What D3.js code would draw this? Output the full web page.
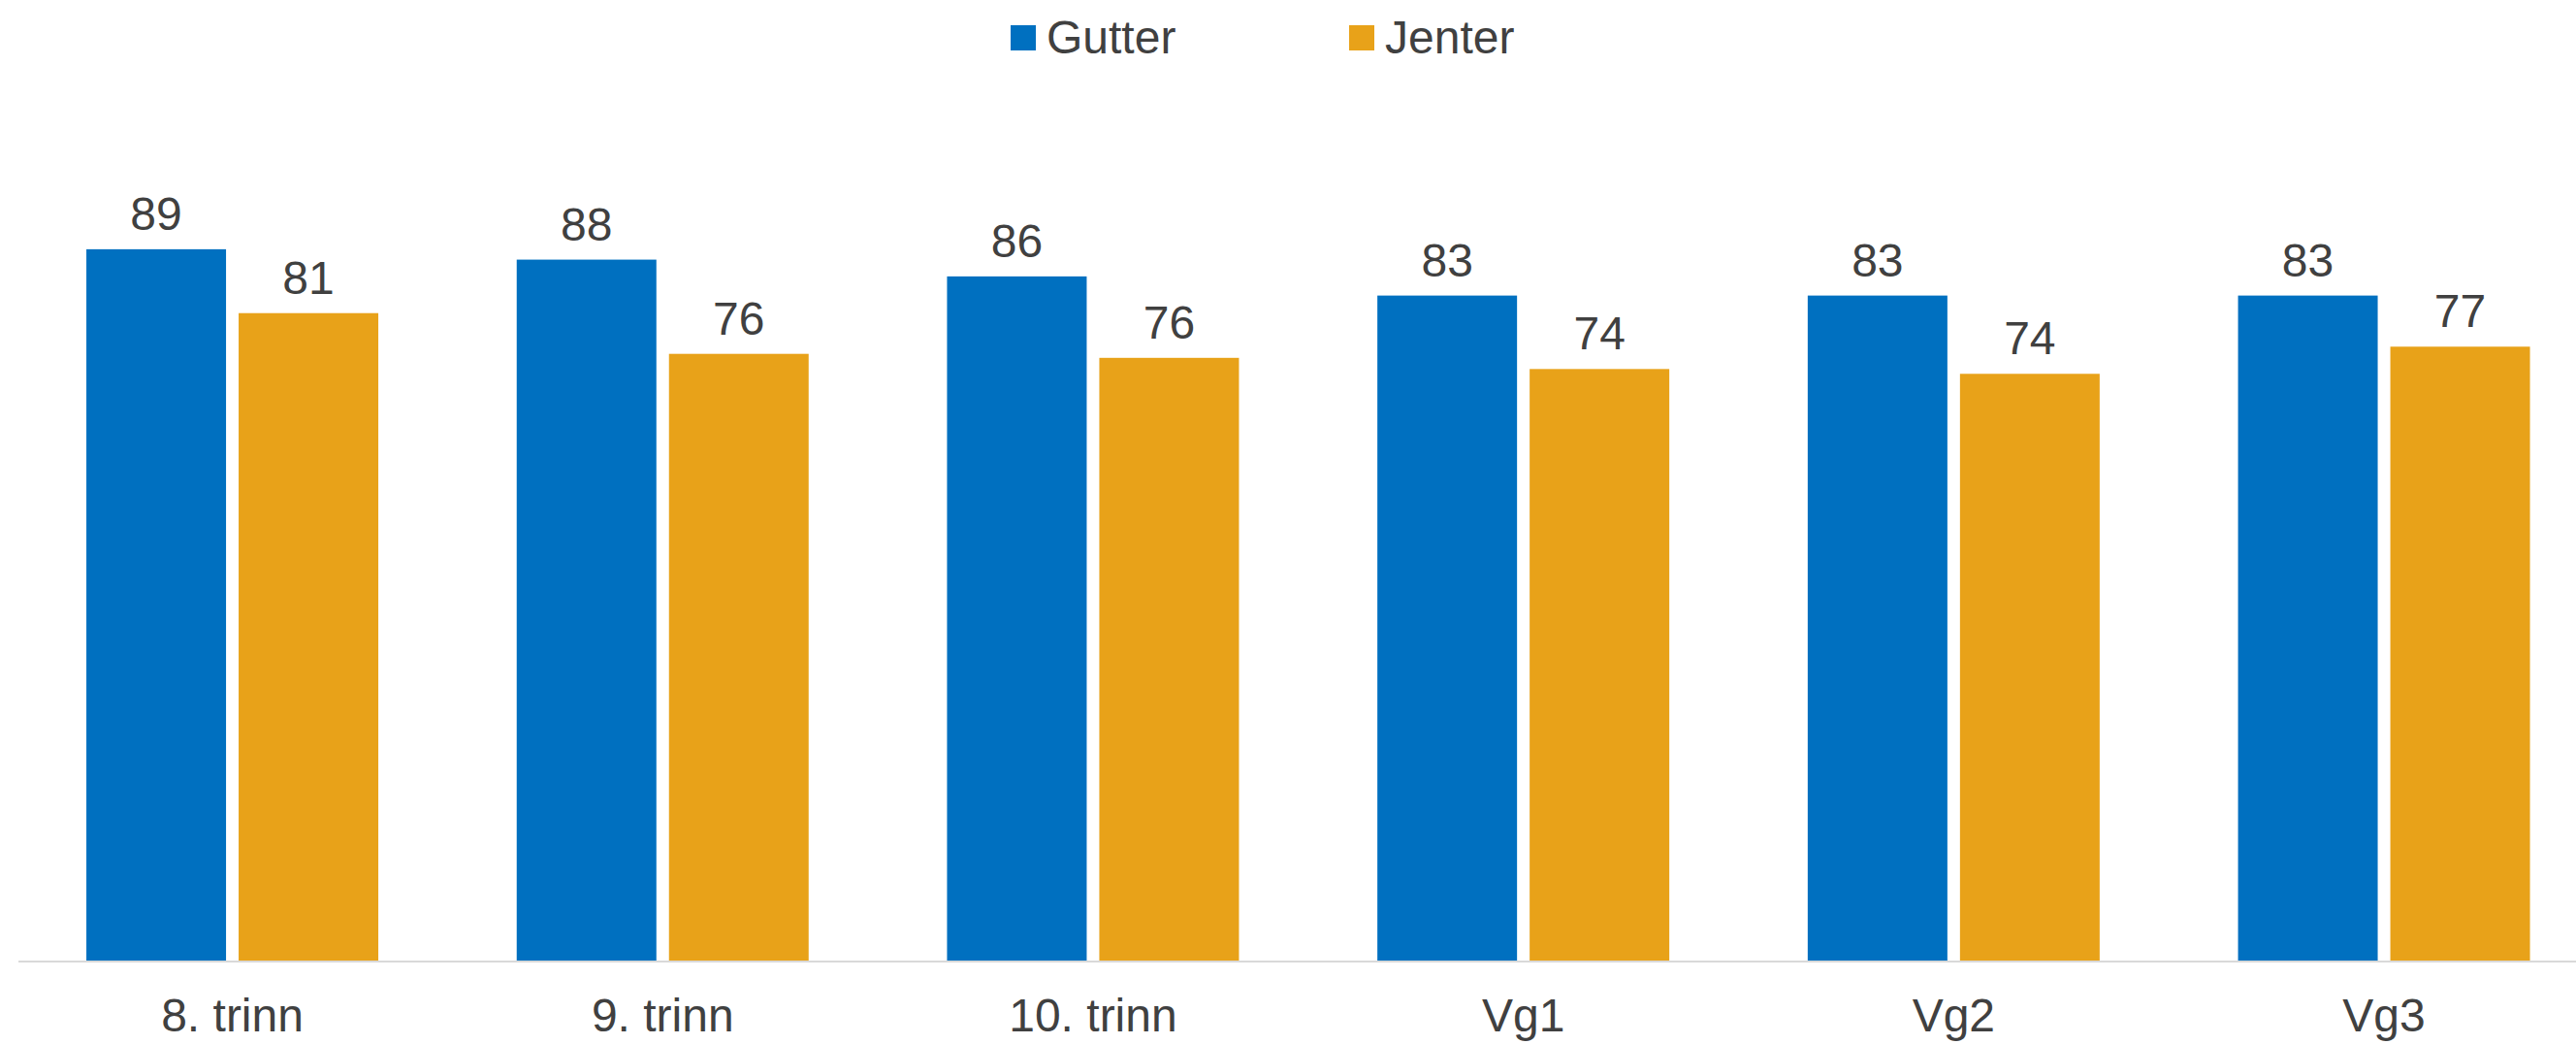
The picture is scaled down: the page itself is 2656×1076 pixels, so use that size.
<!DOCTYPE html>
<html>
<head>
<meta charset="utf-8">
<script src="https://cdn.jsdelivr.net/npm/d3@7"></script>
<style>
  html, body { margin: 0; padding: 0; background: #fff; }
  svg { display: block; font-family: "Liberation Sans", Arial, sans-serif; }
</style>
</head>
<body>
<svg id="chart" width="2656" height="1076"></svg>
<script>
const categories = ["8. trinn", "9. trinn", "10. trinn", "Vg1", "Vg2", "Vg3"];
const seriesNames = ["Gutter", "Jenter"];
const gutter = [89.2, 87.9, 85.8, 83.4, 83.4, 83.4];
const jenter = [81.2, 76.1, 75.6, 74.2, 73.6, 77.0];
const colors = ["#0070C0", "#E8A219"];

const seriesValues = [gutter, jenter];
const data = categories.map((c, i) => ({
  cat: c,
  vals: seriesNames.map((s, j) => ({ series: s, value: seriesValues[j][i] }))
}));

const svg = d3.select("#chart");
const textColor = "#404040";

const step = 443.7;
const x0 = 17.7;
const x = d3.scaleBand().domain(categories).range([x0, x0 + step * categories.length]).paddingInner(0).paddingOuter(0);
const groupW = 301;
const xs = d3.scaleBand().domain(seriesNames)
  .range([(step - groupW) / 2, (step + groupW) / 2])
  .paddingInner(13 / 157).paddingOuter(0);
const y = d3.scaleLinear().domain([0, 100]).range([991, 168]);
const color = d3.scaleOrdinal().domain(seriesNames).range(colors);
const fmt = d3.format(".0f");

// bars
const groups = svg.append("g").selectAll("g").data(data).join("g")
  .attr("transform", d => `translate(${x(d.cat)},0)`);

groups.selectAll("rect").data(d => d.vals).join("rect")
  .attr("x", d => xs(d.series))
  .attr("width", xs.bandwidth())
  .attr("y", d => y(d.value))
  .attr("height", d => y(0) - y(d.value))
  .attr("fill", d => color(d.series));

groups.selectAll("text.val").data(d => d.vals).join("text")
  .attr("class", "val")
  .attr("x", d => xs(d.series) + xs.bandwidth() / 2)
  .attr("y", d => y(d.value) - 20)
  .attr("text-anchor", "middle")
  .attr("font-size", 48)
  .attr("fill", textColor)
  .text(d => fmt(d.value));

// x axis
const xAxis = d3.axisBottom(x).tickSize(0).tickPadding(0);
const axisG = svg.append("g").attr("transform", `translate(0,${y(0)})`).call(xAxis);
axisG.select(".domain").attr("stroke", "#D9D9D9").attr("stroke-width", 2)
  .attr("d", `M19,0H2660`);
axisG.selectAll(".tick text")
  .attr("font-size", 48)
  .attr("font-family", "'Liberation Sans', Arial, sans-serif")
  .attr("fill", textColor)
  .attr("dy", null)
  .attr("y", 72);

// legend
const legendX = [1042, 1391];
const legend = svg.append("g").selectAll("g").data(seriesNames).join("g")
  .attr("transform", (d, i) => `translate(${legendX[i]},0)`);
legend.append("rect").attr("x", 0).attr("y", 26).attr("width", 26).attr("height", 26)
  .attr("fill", d => color(d));
legend.append("text").attr("x", 37).attr("y", 55)
  .attr("font-size", 48).attr("fill", textColor).text(d => d);
</script>
</body>
</html>
